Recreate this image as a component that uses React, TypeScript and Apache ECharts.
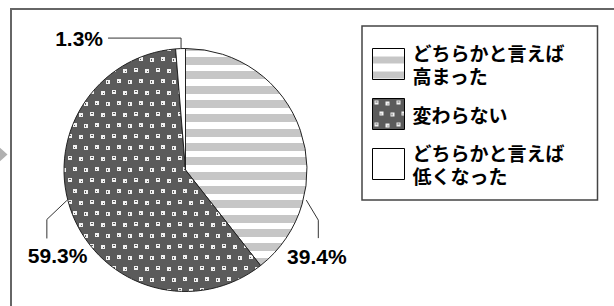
import React, { useEffect, useRef } from 'react';
import * as echarts from 'echarts';

// ---- data ----
const CATEGORIES = ['どちらかと言えば\n高まった', '変わらない', 'どちらかと言えば\n低くなった'];
const VALUES = [39.4, 59.3, 1.3];

// ---- layout / style (not data) ----
const CX = 185.5;
const CY = 170;
const R = 121.5;
// leader line geometry per slice: angle (deg, clockwise from 12 o'clock) where the line leaves the pie
const LEADERS = [
  { angle: 104, gap: 3, elbow: [12, 20], end: [12, 38], label: [-1.5, 18.5], align: 'center' },
  { angle: 255.6, gap: 1, elbow: [-20, 19], end: [-20, 38], label: [10.7, 17], align: 'center' },
  { angle: 357.9, gap: 0, elbow: [0, -10.5], end: [-73, -10.5], label: [-5, 0], align: 'right' },
];

function makeStripes(h: number, grayRows: number[][]): string {
  const c = document.createElement('canvas');
  c.width = 8;
  c.height = h;
  const g = c.getContext('2d')!;
  g.fillStyle = '#ffffff';
  g.fillRect(0, 0, 8, h);
  g.fillStyle = '#c6c6c6';
  grayRows.forEach(([a, b]) => g.fillRect(0, a, 8, b - a));
  return c.toDataURL();
}

function makeDots(): string {
  const c = document.createElement('canvas');
  c.width = 22;
  c.height = 22;
  const g = c.getContext('2d')!;
  const bg = '#5b5b5b';
  g.fillStyle = bg;
  g.fillRect(0, 0, 22, 22);
  const dots = [
    [2, 2, 0],
    [13, 3, 1],
    [7, 13, 2],
    [18, 14, 3],
  ];
  dots.forEach(([x, y, v]) => {
    g.fillStyle = '#f2f2f2';
    g.fillRect(x, y, 4, 4);
    g.fillStyle = bg;
    if (v === 0) g.fillRect(x + 1, y + 1, 2, 1);
    else if (v === 1) g.fillRect(x + 2, y + 2, 1, 1);
    else if (v === 2) g.fillRect(x + 1, y + 2, 1, 1);
    else g.fillRect(x + 1, y + 1, 1, 2);
  });
  return c.toDataURL();
}

export default function App() {
  const ref = useRef<HTMLDivElement>(null);

  useEffect(() => {
    if (!ref.current) return;
    const chart = echarts.init(ref.current, null, { renderer: 'svg' });

    const stripePie = {
      image: makeStripes(43, [[0, 8], [14, 22], [28, 36]]),
      repeat: 'repeat',
      imageWidth: 8,
      imageHeight: 43,
    };
    const stripeLegend = {
      image: makeStripes(15, [[8, 15]]),
      repeat: 'repeat',
      imageWidth: 8,
      imageHeight: 15,
    };
    const dots = { image: makeDots(), repeat: 'repeat', imageWidth: 22, imageHeight: 22 };
    const fills: any[] = [stripePie, dots, '#ffffff'];

    const toXY = (angle: number, r: number) => {
      const a = (angle * Math.PI) / 180;
      return [CX + r * Math.sin(a), CY - r * Math.cos(a)];
    };

    const option: any = {
      animation: false,
      backgroundColor: '#ffffff',
      graphic: [
        {
          type: 'polyline',
          silent: true,
          shape: { points: [[11, 306], [11, 9], [614, 9]] },
          style: { stroke: '#666666', lineWidth: 2, fill: null },
        },
        {
          type: 'polygon',
          silent: true,
          shape: { points: [[-4, 144], [7.5, 154.5], [-4, 165]] },
          style: { fill: '#b0b0b0' },
        },
      ],
      legend: {
        orient: 'vertical',
        left: 362,
        top: 26,
        icon: 'rect',
        itemWidth: 32,
        itemHeight: 31,
        itemGap: 11,
        padding: [15, 33, 13, 10],
        borderColor: '#444444',
        borderWidth: 1.5,
        backgroundColor: '#ffffff',
        selectedMode: false,
        itemStyle: { borderColor: '#000000', borderWidth: 1 },
        textStyle: {
          fontFamily: 'Noto Sans CJK JP',
          fontSize: 19,
          fontWeight: 'bold',
          color: '#000000',
          lineHeight: 23,
          padding: [0, 0, 0, 3],
        },
        data: CATEGORIES.map((name, i) =>
          i === 0 ? { name, itemStyle: { color: stripeLegend } } : { name }
        ),
      },
      series: [
        {
          type: 'pie',
          center: [CX, CY],
          radius: R,
          startAngle: 90,
          clockwise: true,
          avoidLabelOverlap: false,
          silent: true,
          itemStyle: { borderColor: '#222222', borderWidth: 1 },
          label: {
            show: true,
            position: 'outside',
            formatter: (p: any) => `${Number(p.value).toFixed(1)}%`,
            fontFamily: 'Liberation Sans',
            fontSize: 21,
            fontWeight: 'bold',
            color: '#000000',
          },
          labelLine: {
            show: true,
            length: 10,
            length2: 10,
            smooth: false,
            lineStyle: { color: '#333333', width: 1 },
          },
          labelLayout: (params: any) => {
            const L = LEADERS[params.dataIndex];
            const p0 = toXY(L.angle, R + L.gap);
            const p1 = [p0[0] + L.elbow[0], p0[1] + L.elbow[1]];
            const p2 = [p0[0] + L.end[0], p0[1] + L.end[1]];
            return {
              x: p2[0] + L.label[0],
              y: p2[1] + L.label[1],
              align: L.align,
              verticalAlign: 'middle',
              labelLinePoints: [p0, p1, p2],
            };
          },
          data: CATEGORIES.map((name, i) => ({
            name,
            value: VALUES[i],
            itemStyle: { color: fills[i] },
          })),
        },
      ],
    };

    chart.setOption(option);
    return () => chart.dispose();
  }, []);

  return (
    <div
      ref={ref}
      style={{ position: 'fixed', left: 0, top: 0, width: 614, height: 306 }}
    />
  );
}
